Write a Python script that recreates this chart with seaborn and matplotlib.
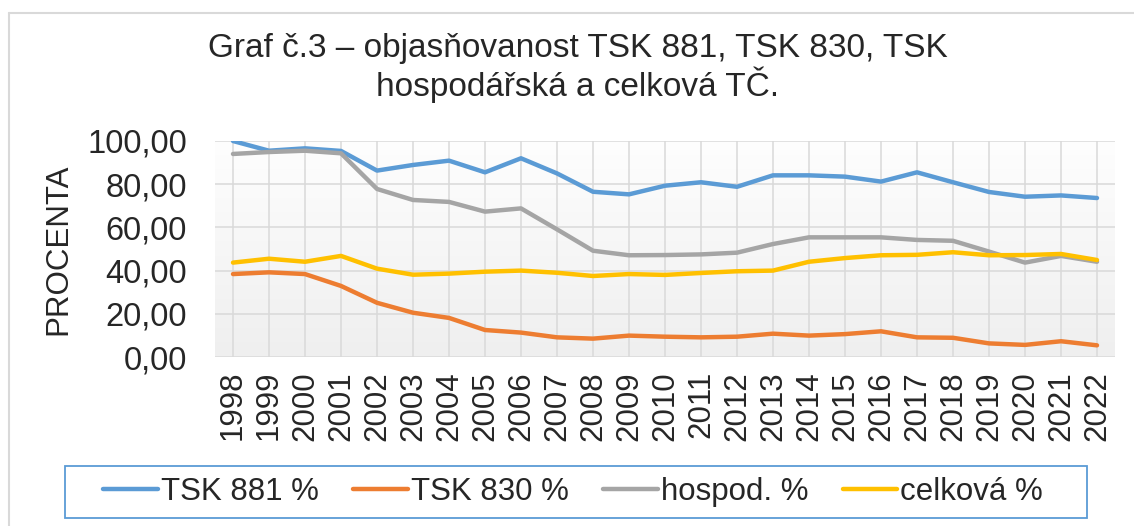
import numpy as np
import pandas as pd
import matplotlib
matplotlib.use("Agg")
import matplotlib.pyplot as plt
import seaborn as sns
from matplotlib.lines import Line2D
from matplotlib.patches import Rectangle
from matplotlib.ticker import FuncFormatter
from matplotlib.colors import LinearSegmentedColormap

years = [str(y) for y in range(1998, 2023)]
tsk881 = [100.0, 95.5, 96.6, 95.4, 86.3, 88.9, 90.9, 85.5, 92.0, 85.0, 76.5, 75.3,
          79.3, 80.9, 78.8, 84.1, 84.1, 83.5, 81.2, 85.5, 80.9, 76.4, 74.2, 74.8, 73.6]
tsk830 = [38.4, 39.2, 38.4, 32.9, 25.1, 20.5, 18.1, 12.5, 11.3, 9.1, 8.5, 9.9,
          9.4, 9.1, 9.4, 10.8, 9.9, 10.6, 11.9, 9.1, 8.9, 6.3, 5.6, 7.3, 5.4]
hospod = [94.0, 94.9, 95.5, 94.3, 77.8, 72.7, 71.8, 67.3, 68.8, 59.1, 49.2, 47.1,
          47.2, 47.5, 48.3, 52.3, 55.4, 55.4, 55.4, 54.2, 53.8, 48.8, 43.7, 46.8, 44.1]
celkova = [43.7, 45.5, 44.1, 46.8, 40.9, 38.1, 38.6, 39.5, 40.0, 39.0, 37.5, 38.4,
           38.0, 38.9, 39.7, 40.0, 44.1, 45.8, 47.1, 47.3, 48.5, 47.1, 47.2, 47.7, 44.9]
series_names = ["TSK 881 %", "TSK 830 %", "hospod. %", "celková %"]
colors = ["#5B9BD5", "#ED7D31", "#A5A5A5", "#FFC000"]
title = "Graf č.3 – objasňovanost TSK 881, TSK 830, TSK\nhospodářská a celková TČ."
ylabel = "PROCENTA"

df = pd.DataFrame({
    "rok": years * 4,
    "hodnota": tsk881 + tsk830 + hospod + celkova,
    "serie": sum([[n] * len(years) for n in series_names], []),
})

sns.set_theme(style="white")
plt.rcParams["font.family"] = ["Liberation Sans", "DejaVu Sans"]
FS = 22.5

fig = plt.figure(figsize=(11.34, 5.26), dpi=100)
W, H = 1134, 526
ax = fig.add_axes([215 / W, 1 - 357 / H, (1115 - 215) / W, (357 - 141) / H])

# gradient background
grad = np.linspace(0, 1, 256).reshape(-1, 1)
cmap = LinearSegmentedColormap.from_list("g", ["#fefefe", "#efefef"])
ax.imshow(grad, aspect="auto", cmap=cmap, extent=[0, 1, 0, 1],
          transform=ax.transAxes, zorder=0)

sns.lineplot(data=df, x="rok", y="hodnota", hue="serie", palette=colors,
             linewidth=3.2, ax=ax, legend=False, zorder=3, sort=False)

ax.set_xlim(-0.5, len(years) - 0.5)
ax.set_ylim(0, 100)
ax.set_yticks([0, 20, 40, 60, 80, 100])
ax.yaxis.set_major_formatter(FuncFormatter(lambda v, p: f"{v:.2f}".replace(".", ",")))
ax.set_xticks(range(len(years)))
ax.set_xticklabels(years, rotation=90, fontsize=FS)
ax.tick_params(axis="y", labelsize=23.5, length=0, pad=20)
ax.tick_params(axis="x", length=0, pad=10)
ax.grid(True, color="#d9d9d9", linewidth=1.1, zorder=1)
ax.set_axisbelow(True)
for s in ax.spines.values():
    s.set_visible(False)
ax.set_xlabel("")
ax.set_ylabel(ylabel, fontsize=FS)
ax.yaxis.set_label_coords(-0.157, 0.5)

fig.text(578 / W, 1 - 68 / H, title, ha="center", va="center", fontsize=24,
         linespacing=1.1)

handles = [Line2D([0], [0], color=c, lw=3.2) for c in colors]
leg = fig.legend(handles, series_names, loc="center", bbox_to_anchor=(573 / W, 1 - 492 / H),
                 ncol=4, fontsize=FS, frameon=False,
                 handlelength=1.75, handletextpad=0.1, columnspacing=1.1,
                 borderpad=0.25, borderaxespad=0)
fig.add_artist(Rectangle((65 / W, 1 - 518 / H), (1087 - 65) / W, (518 - 466) / H,
                         transform=fig.transFigure, fill=False,
                         edgecolor="#5B9BD5", linewidth=1.3))

# outer chart border
fig.add_artist(Line2D([8.5 / W, 1.0], [1 - 12.5 / H, 1 - 12.5 / H], color="#d9d9d9", lw=1.5,
                      transform=fig.transFigure))
fig.add_artist(Line2D([8.5 / W, 8.5 / W], [0, 1 - 12.5 / H], color="#d9d9d9", lw=1.5,
                      transform=fig.transFigure))

fig.savefig("out.png", dpi=100, facecolor="white")
